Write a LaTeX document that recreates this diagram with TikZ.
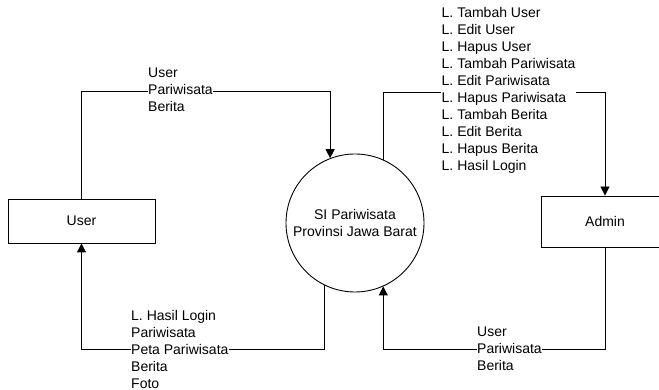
\documentclass[tikz,border=0pt]{standalone}
\usepackage{fontspec}
\setmainfont{Liberation Sans}
\usetikzlibrary{arrows.meta}
\begin{document}
\begin{tikzpicture}[x=1pt,y=-1pt,
  every node/.style={font=\fontsize{14}{17}\selectfont},
  boxent/.style={draw, line width=0.9pt, rectangle, inner sep=0pt},
  proc/.style={draw, line width=0.9pt, circle, inner sep=0pt, minimum size=138pt, align=center},
  flow/.style={draw, line width=0.9pt, -{Triangle[length=9pt,width=9pt]}},
  lbl/.style={fill=white, inner xsep=0.5pt, inner ysep=0pt, align=left, anchor=west}]
\useasboundingbox (0,0) rectangle (659,390);
\clip (0,0) rectangle (659,390);
\fill[white] (0,0) rectangle (659,390);
\node[boxent, minimum width=147pt, minimum height=44pt] (user) at (81.5,221) {User};
\node[boxent, minimum width=128pt, minimum height=51pt] (admin) at (605,221.5) {Admin};
\node[proc] (si) at (355,223) {SI Pariwisata\\Provinsi Jawa Barat};
\coordinate (ytl) at (0,91);
\coordinate (ytr) at (0,92);
\coordinate (yb) at (0,349);
\draw[flow] (user.north) |- (si.111 |- ytl) -- (si.111);
\draw[flow] (si.66) |- (admin.north |- ytr) -- (admin.north);
\draw[flow] (si.-116) |- (user.south |- yb) -- (user.south);
\draw[flow] (admin.south) |- (si.-66 |- yb) -- (si.-66);
\node[lbl] (l1) at (147.5,90) {User\\Pariwisata\\Berita};
\node[lbl] (l2) at (441,90) {L. Tambah User\\L. Edit User\\L. Hapus User\\L. Tambah Pariwisata\\L. Edit Pariwisata\\L. Hapus Pariwisata\\L. Tambah Berita\\L. Edit Berita\\L. Hapus Berita\\L. Hasil Login};
\node[lbl] (l3) at (130.5,349) {L. Hasil Login\\Pariwisata\\Peta Pariwisata\\Berita\\Foto};
\node[lbl] (l4) at (476.5,349) {User\\Pariwisata\\Berita};
\end{tikzpicture}
\end{document}
